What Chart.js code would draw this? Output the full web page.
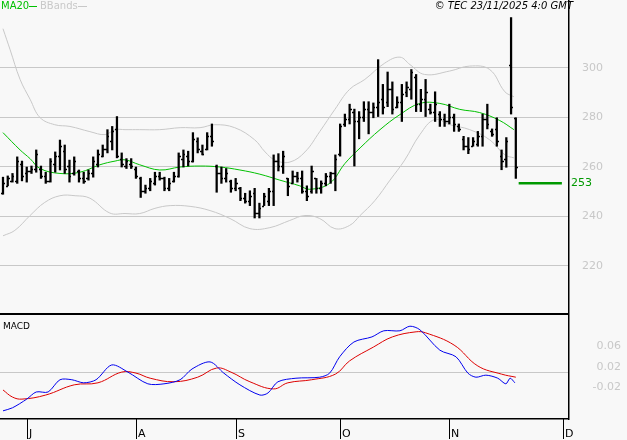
<!DOCTYPE html>
<html><head><meta charset="utf-8">
<script src="https://cdn.jsdelivr.net/npm/chart.js@4.4.0/dist/chart.umd.min.js"></script>
<style>
html,body{margin:0;padding:0;background:#f8f8f8;width:627px;height:440px;overflow:hidden}
canvas{position:absolute;left:0}
#c1{top:0}#c2{top:316px}
</style></head><body>
<canvas id="c1" width="627" height="316"></canvas>
<canvas id="c2" width="627" height="124"></canvas>
<script>
// OHLC per trading day (index 0 = 24 Jun 2025)
const opens  = [249,252,254,254,261,257,258,259,259,256,254,261,264,266,260,257,258,255,255,257,261,264,267,270,275,263,260,261,259,255,250,251,253,256,255,251,254,256,263,264,262,270,266,267,272,260,257,255,254,251,251,247,246,249,241,244,246,250,262,260,255,253,256,255,250,250,255,251,253,256,257,265,277,279,282,278,280,283,282,284,287,286,291,284,286,290,291,296,285,287,283,282,281,279,278,280,276,271,268,268,269,272,279,274,275,264,263,301,279.5];
const highs  = [255.5,256,257,263.7,262,259.6,260,266.5,260,257.5,263,265.7,270.5,268.5,262.4,263.7,258.4,257.5,258.4,263.7,266.5,268.5,274.7,276,280,265.3,263,263,259.6,255.5,252.3,255,257.5,257.5,255.5,255,257.5,265.3,266.5,266,273.5,271.4,268.5,273.5,277,260.4,259.6,259,254.3,255,251.4,249,250,251,245,249,251,264.5,265,266,255,258,257.5,258,252,260,255,254,257,257.5,264.5,277,281,285,283,282,286,286,285.5,303,293,298,294,288,293,294,299,297,291,295,285,290,282,281,285,281,277,272,271.5,271.5,274,281,285,275,279.5,266.5,271.5,320,279.5];
const lows   = [248.6,252,253.5,253,254,253.5,257,257.5,255,253,253.5,257.5,258.4,257,253.5,256.3,253.5,253,254.3,255.5,259.6,263.7,265.3,266.5,263.3,259.6,259,259,255,247.3,249,250,252.3,254.3,250,250,253.5,255.5,259.6,260,261.6,265.3,264.5,266.5,268,249.4,253,253.5,249.4,250,246,245,244,239,239,244,244,244,258,257,248,253,253.5,249,246,249,249,249,252,253,250,264,276,277,260,271,278,273,279.5,280,281,284,281,283.5,278,288,287,282,282,280,281,278,276,276,277,274,274,266.5,265,268,268,268,275,272,268,258.5,259.5,281,255];
const closes = [253,255,256,262,256,258,259,265,256,254,262,264,268,259,256,262,255,254,257,262,265,267,272,274,264,261,262,260,256,250,251,254,256,255,251,253,256,264,265,262,271,267,265,272,270,257,255,257,251,253,247,246,248,241,243,248,250,262,260,264,252,256,255,250,248,258,251,253,256,257,263,276,279,283,278,280,283,282,284,286,284,291,283,286,289,292,298,285,287,290,282,285,279,278,280,277,275,268,267,270,272,279,277,273,270,262,270,284,259.5];
// MA20 and Bollinger bands (bar index, price)
const maX   = [0,3.6,5.7,7.8,12,16.2,20.4,23.6,25.7,28.8,33,37.3,41.5,45.7,49.9,54.1,58.3,62.5,64.6,68.8,72,75.2,79.4,83.6,87.8,92,96.2,100.4,104.6,107.6];
const maY   = [273.5,266.5,263,259,257,257.5,260.5,262,262.5,260.5,258.4,259.6,260,259.6,258.4,256.7,254.3,252,250.6,253,261,267.3,274.7,280.8,285.3,285.3,282.9,281.6,278.4,274.7];
const upX   = [0,1.5,3.6,5.7,7.8,10.9,14.1,18.3,21.5,23.6,25.7,28.8,33,37.3,41.5,44.6,48.8,53,55.2,57.3,60.4,63.6,66.7,69.9,73,76.2,80.4,83.6,85.7,88.8,94.1,98.3,102.5,105.7,107.6];
const upY   = [315.5,307,295,287,279.6,276.7,276,273.9,272.7,274.7,274.7,274.7,274.7,275.5,275.5,276.7,275.5,270.6,265.7,262.4,261.6,265.7,273.9,282.9,291,295,301.6,304,301,297,298.4,300.4,299,290,288];
const loX   = [0,2.5,5.7,8.8,12,15.2,18.3,22.5,25.7,28.8,32,35.2,39.4,43.6,47.8,52,56.2,60.4,63.6,66.7,69.9,73,75.2,78.3,81.5,84.6,87.8,90.9,94.1,98.3,102.5,105.7,107.6];
const loY   = [231.8,234,240,245.3,248,248,247,241,240.8,240.8,242.9,244,243.7,242,238.8,234.7,235.1,238,240,238.8,234.7,236,240,246,254.3,262.4,272.7,278.8,276.7,274.7,270.6,264.5,263.3];
const lastPrice = 253;
// MACD
const macdX = [0,2,5,7,9.5,12,14.5,17,19.6,22.9,26.3,30.5,33.9,37.3,39.8,43.6,46.5,49.9,54.1,55.8,57.9,61.7,66.7,68.8,70.9,73.9,77.7,80.2,83.6,85.7,87.8,92,95.4,97.9,99.6,101.7,104.2,105.9,106.8,107.8];
const macdY = [-0.066,-0.060,-0.043,-0.029,-0.029,-0.005,-0.005,-0.011,-0.005,0.024,0.010,-0.013,-0.013,-0.005,0.016,0.030,0.008,-0.015,-0.035,-0.031,-0.009,-0.002,0.000,0.008,0.040,0.069,0.079,0.091,0.091,0.100,0.093,0.053,0.040,0.008,0.000,0.004,-0.002,-0.013,-0.002,-0.011];
const sigX  = [0,2,4,9,15,20,25,28,31,36,41,45,48,52,57,60,65,70,73,78,82,87,89,95,100,105,108];
const sigY  = [-0.025,-0.039,-0.043,-0.035,-0.015,-0.011,0.010,0.008,-0.002,-0.009,0.000,0.018,0.010,-0.009,-0.023,-0.011,-0.005,0.006,0.032,0.059,0.079,0.089,0.087,0.063,0.022,0.006,0.000];
const priceTicks = [220,240,260,280,300];
const macdTicks = [0.06,0.02,-0.02];
const macdTickText = ['0.06','0.02','-0.02'];
const macdZero = 0.01;
const monthNames = ['J','A','S','O','N','D'];
const monthIdx = [5,28,49,71,94,117.9];

const XMIN=-0.63, XMAX=119.2;
const pts=(xs,ys)=>xs.map((x,i)=>({x:x,y:ys[i]}));
const FONT='"DejaVu Sans", sans-serif';

const priceDeco={id:'priceDeco',
beforeDatasetsDraw(ch){
  const c=ch.ctx,y=ch.scales.y;
  c.save();c.fillStyle='#c8c8c8';
  priceTicks.forEach(v=>{c.fillRect(0,Math.round(y.getPixelForValue(v)),569,1);});
  c.font='11px '+FONT;c.textBaseline='middle';
  priceTicks.forEach(v=>{c.fillText(String(v),582,y.getPixelForValue(v)+1);});
  c.restore();
},
afterDatasetsDraw(ch){
  const c=ch.ctx,x=ch.scales.x,y=ch.scales.y;
  c.save();c.strokeStyle='#000';c.lineWidth=1.5;
  for(let i=0;i<closes.length;i++){
    const px=Math.round(x.getPixelForValue(i));
    const po=Math.round(y.getPixelForValue(opens[i]))+0.5, pc=Math.round(y.getPixelForValue(closes[i]))+0.5;
    c.beginPath();c.moveTo(px-2,po);c.lineTo(px,po);c.moveTo(px,pc);c.lineTo(px+2,pc);c.stroke();
  }
  c.restore();
},afterDraw(ch){
  const c=ch.ctx;
  c.save();
  c.fillStyle='#000';c.fillRect(568,0,1.5,316);c.fillRect(0,313,569,2);
  c.font='10px '+FONT;c.textBaseline='middle';
  c.fillStyle='#00c000';c.fillText('MA20',1,6);c.fillRect(29,6,8,1);
  c.fillStyle='#c8c8c8';c.fillText('BBands',40,6);c.fillRect(78,6,9,1);
  c.fillStyle='#000';c.font='italic 10px '+FONT;c.textAlign='right';c.fillText('© TEC 23/11/2025 4:0 GMT',573,6);
  c.textAlign='left';c.font='11px '+FONT;c.fillStyle='#009900';
  c.fillText(String(lastPrice),571,ch.scales.y.getPixelForValue(lastPrice));
  c.restore();
}};

new Chart(document.getElementById('c1'),{
  type:'bar',
  data:{datasets:[
    {type:'bar',data:closes.map((v,i)=>({x:i,y:[lows[i],highs[i]]})),backgroundColor:'#000',barThickness:1.6,order:1},
    {type:'line',data:pts(maX,maY),borderColor:'#00c000',borderWidth:1,pointRadius:0,tension:0.4,order:2},
    {type:'line',data:pts(upX,upY),borderColor:'#c8c8c8',borderWidth:1,pointRadius:0,tension:0.4,order:3},
    {type:'line',data:pts(loX,loY),borderColor:'#c8c8c8',borderWidth:1,pointRadius:0,tension:0.4,order:3},
    {type:'line',data:[{x:108.6,y:lastPrice},{x:117.7,y:lastPrice}],borderColor:'#009900',borderWidth:2.5,pointRadius:0,order:2}
  ]},
  options:{responsive:false,devicePixelRatio:1,animation:false,
    layout:{padding:{top:0,bottom:2,left:0,right:58}},
    plugins:{legend:{display:false},tooltip:{enabled:false}},
    scales:{
      x:{type:'linear',min:XMIN,max:XMAX,display:false,offset:false},
      y:{min:200.2,max:327.1,display:false}
    }},
  plugins:[priceDeco]
});

const macdDeco={id:'macdDeco',
beforeDatasetsDraw(ch){
  const c=ch.ctx,y=ch.scales.y;
  c.save();c.fillStyle='#c8c8c8';
  c.fillRect(0,Math.round(y.getPixelForValue(macdZero)),569,1);
  c.font='11px '+FONT;c.textBaseline='middle';c.textAlign='right';
  macdTicks.forEach((v,i)=>{c.fillText(macdTickText[i],621,y.getPixelForValue(v));});
  c.restore();
},
afterDraw(ch){
  const c=ch.ctx,x=ch.scales.x;
  c.save();c.fillStyle='#000';
  c.fillRect(568,0,1.5,104);c.fillRect(0,102,569,1.5);
  c.font='9px '+FONT;c.textBaseline='middle';c.fillText('MACD',3,11);
  c.font='11px '+FONT;c.textBaseline='alphabetic';
  monthIdx.forEach((m,i)=>{const px=Math.round(x.getPixelForValue(m));
    c.fillRect(px,103,1,20);c.fillText(monthNames[i],px+2,121);});
  c.restore();
}};

new Chart(document.getElementById('c2'),{
  type:'line',
  data:{datasets:[
    {data:pts(macdX,macdY),borderColor:'#0000ee',borderWidth:1,pointRadius:0,tension:0.3},
    {data:pts(sigX,sigY),borderColor:'#dd0000',borderWidth:1,pointRadius:0,tension:0.4}
  ]},
  options:{responsive:false,devicePixelRatio:1,animation:false,
    layout:{padding:{top:0,bottom:21,left:0,right:58}},
    plugins:{legend:{display:false},tooltip:{enabled:false}},
    scales:{
      x:{type:'linear',min:XMIN,max:XMAX,display:false},
      y:{min:-0.082,max:0.12,display:false}
    }},
  plugins:[macdDeco]
});
</script></body></html>
